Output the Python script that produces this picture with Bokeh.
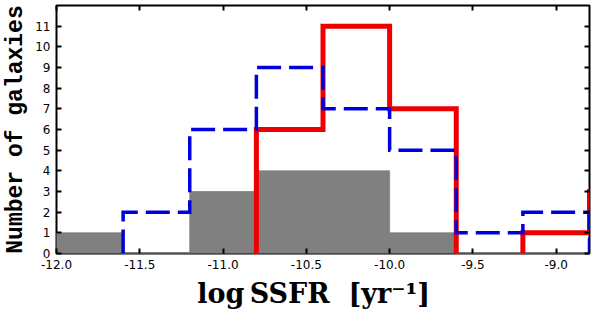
from bokeh.plotting import figure
from bokeh.models import (Range1d, FixedTicker, PrintfTickFormatter, LinearAxis,
                          CustomJSTickFormatter, ColumnDataSource)
from bokeh.embed import file_html
from bokeh.resources import INLINE

# ---- data ----
bin_edges = [-12.0, -11.6, -11.2, -10.8, -10.4, -10.0, -9.6, -9.2, -8.8, -8.4]
gray_counts = [1, 0, 3, 4, 4, 1, 0, 0, 0]
blue_counts = [0, 2, 6, 9, 7, 5, 1, 2, 0]
red_counts = [0, 0, 0, 6, 11, 7, 0, 1, 3]
x_ticks = [-12.0, -11.5, -11.0, -10.5, -10.0, -9.5, -9.0]
y_ticks = list(range(0, 12))


def step_path(edges, counts):
    xs, ys = [], []
    prev = 0
    for i, v in enumerate(counts):
        left, right = edges[i], edges[i + 1]
        if v == 0:
            if prev != 0:
                xs += [left, float("nan")]
                ys += [0, float("nan")]
            prev = 0
            continue
        if prev == 0:
            xs.append(left)
            ys.append(0)
        xs += [left, right]
        ys += [v, v]
        prev = v
    if prev != 0:
        xs.append(edges[-1])
        ys.append(0)
    return xs, ys


p = figure(width=592, height=311, output_backend="svg", toolbar_location=None,
           x_range=Range1d(-12.0, -8.8), y_range=Range1d(0, 12),
           min_border_left=55, min_border_right=3, min_border_top=5,
           min_border_bottom=57)
p.xgrid.visible = False
p.ygrid.visible = False
p.outline_line_color = "black"
p.outline_line_width = 2
p.background_fill_color = "white"
p.border_fill_color = "white"

# gray filled histogram
gsrc = ColumnDataSource(dict(left=bin_edges[:-1], right=bin_edges[1:],
                             top=gray_counts, bottom=[0] * len(gray_counts)))
p.quad(left="left", right="right", top="top", bottom="bottom", source=gsrc,
       fill_color="#808080", line_color="#808080", line_width=0.8)

rx, ry = step_path(bin_edges, red_counts)
p.line(rx, ry, line_color="#ee0000", line_width=5, line_join="miter")
bx, by = step_path(bin_edges, blue_counts)
p.line(bx, by, line_color="#0000dd", line_width=3.5, line_dash="24 8",
       line_join="miter")


def style_axis(ax, ticks, show_labels):
    ax.ticker = FixedTicker(ticks=ticks)
    ax.axis_line_color = None
    ax.major_tick_in = 5
    ax.major_tick_out = 0
    ax.major_tick_line_width = 2
    ax.major_tick_line_color = "black"
    ax.minor_tick_line_color = None
    if show_labels:
        ax.major_label_text_font = "DejaVu Sans"
        ax.major_label_text_font_size = "12px"
        ax.major_label_text_color = "black"
        ax.major_label_standoff = 6
    else:
        ax.formatter = CustomJSTickFormatter(code="return ''")
        ax.major_label_text_font_size = "1px"
        ax.major_label_standoff = 0


xa = p.xaxis[0]
style_axis(xa, x_ticks, True)
xa.formatter = PrintfTickFormatter(format="%.1f")
xa.axis_label = "log\u2009SSFR \u00a0[yr\u207b\u00b9]\u00a0\u00a0"
xa.axis_label_text_font = "DejaVu Serif"
xa.axis_label_text_font_style = "bold"
xa.axis_label_text_font_size = "27px"
xa.axis_label_text_color = "black"
xa.axis_label_standoff = 6

ya = p.yaxis[0]
style_axis(ya, y_ticks, True)
ya.major_label_standoff = 6
ya.axis_label = "Number of galaxies"
ya.axis_label_text_font = "Liberation Mono"
ya.axis_label_text_font_style = "bold"
ya.axis_label_text_font_size = "23px"
ya.axis_label_text_color = "black"
ya.axis_label_standoff = 3

top_ax = LinearAxis()
style_axis(top_ax, x_ticks, False)
p.add_layout(top_ax, "above")
right_ax = LinearAxis()
style_axis(right_ax, y_ticks, False)
p.add_layout(right_ax, "right")

open("out.html", "w").write(file_html(p, INLINE))
